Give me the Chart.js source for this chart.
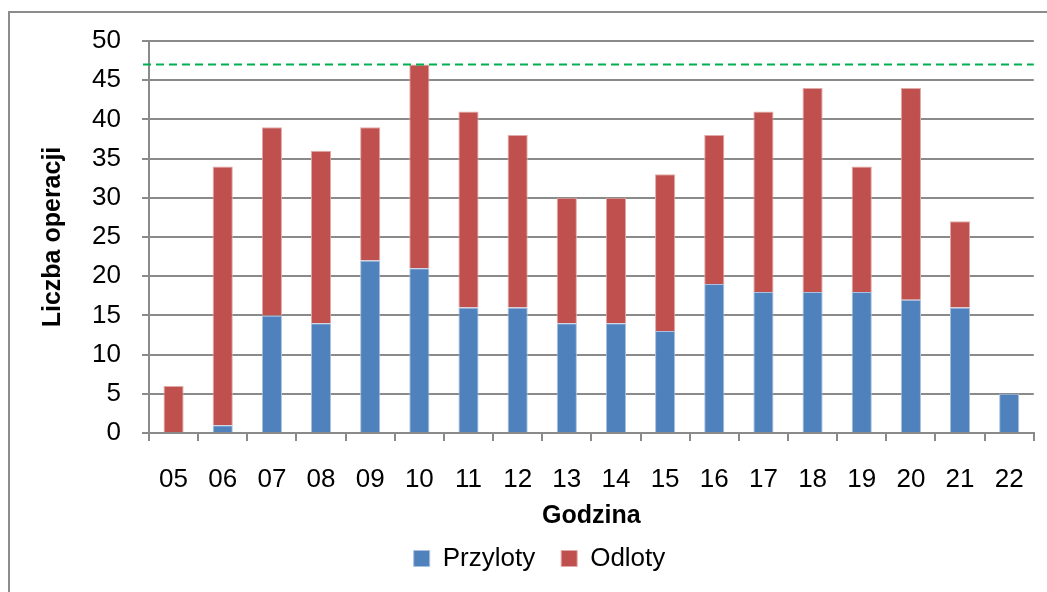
<!DOCTYPE html>
<html>
<head>
<meta charset="utf-8">
<script src="https://cdn.jsdelivr.net/npm/chart.js"></script>
<style>
    html, body { margin: 0; padding: 0; background: #fff; overflow: hidden; }
    body { width: 1047px; height: 592px; position: relative; }
    .frame {
        position: absolute; left: 8px; top: 11px;
        width: 2000px; height: 2000px;
        border: 2px solid #8c8c8c;
    }
    .wrap { position: absolute; left: 0; top: 0; width: 1047px; height: 592px; }
</style>
</head>
<body>
<div class="frame"></div>
<div class="wrap"><canvas id="opsChart" width="1047" height="592"></canvas></div>
<script>
// Data
const hours = ['05', '06', '07', '08', '09', '10', '11', '12', '13', '14', '15', '16', '17', '18', '19', '20', '21', '22'];
const arrivals = [0, 1, 15, 14, 22, 21, 16, 16, 14, 14, 13, 19, 18, 18, 18, 17, 16, 5];
const departures = [6, 33, 24, 22, 17, 26, 25, 22, 16, 16, 20, 19, 23, 26, 16, 27, 11, 0];
const yMin = 0;
const yMax = 50;
const yStep = 5;
const capacity = 47;

const gridColor = '#8a8a8a';

// Dashed green reference line at the capacity value
const capacityLine = {
    id: 'capacityLine',
    afterDatasetsDraw(chart) {
        const { ctx, chartArea, scales } = chart;
        const y = scales.y.getPixelForValue(capacity);
        ctx.save();
        ctx.strokeStyle = '#00b050';
        ctx.lineWidth = 2.2;
        ctx.setLineDash([8, 5]);
        ctx.beginPath();
        ctx.moveTo(chartArea.left - 6, y);
        ctx.lineTo(chartArea.right, y);
        ctx.stroke();
        ctx.restore();
    }
};

// Legend in the original is centred a bit right of the canvas middle
const legendShift = {
    id: 'legendShift',
    afterLayout(chart) {
        if (chart.legend) {
            chart.legend.left += 22;
            chart.legend.right += 22;
        }
    }
};

Chart.defaults.font.family = '"Liberation Sans", Arial, sans-serif';
Chart.defaults.font.size = 26;
Chart.defaults.color = '#000';

function initChart() {
    const ctx = document.getElementById('opsChart').getContext('2d');
    new Chart(ctx, {
        type: 'bar',
        data: {
            labels: hours,
            datasets: [{
                label: 'Przyloty',
                data: arrivals,
                backgroundColor: '#4f81bd',
                borderColor: '#a9c1e0',
                borderWidth: 1,
                borderSkipped: 'bottom'
            }, {
                label: 'Odloty',
                data: departures,
                backgroundColor: '#c0504d',
                borderColor: '#e0aaa8',
                borderWidth: 1,
                borderSkipped: 'bottom'
            }]
        },
        options: {
            responsive: false,
            animation: false,
            categoryPercentage: 1,
            barPercentage: 0.41,
            layout: {
                padding: { left: 0, right: 12, top: 41, bottom: 10.5 }
            },
            plugins: {
                legend: {
                    position: 'bottom',
                    labels: {
                        boxWidth: 16,
                        boxHeight: 16,
                        padding: 26,
                        font: { size: 26 }
                    }
                },
                tooltip: { enabled: false }
            },
            scales: {
                x: {
                    stacked: true,
                    grid: {
                        offset: true,
                        drawOnChartArea: false,
                        drawTicks: true,
                        tickLength: 8,
                        color: gridColor,
                        lineWidth: 2
                    },
                    border: { display: true, color: gridColor, width: 2 },
                    ticks: { padding: 23, maxRotation: 0, autoSkip: false },
                    title: {
                        display: true,
                        text: 'Godzina',
                        font: { size: 25, weight: 'bold' },
                        padding: { top: 0, bottom: -12 }
                    },
                    afterFit(scale) { scale.height = 86.5; }
                },
                y: {
                    stacked: true,
                    min: yMin,
                    max: yMax,
                    ticks: { stepSize: yStep, padding: 21 },
                    grid: {
                        color: gridColor,
                        lineWidth: 2,
                        tickLength: 7
                    },
                    border: { display: true, color: gridColor, width: 2 },
                    title: {
                        display: true,
                        text: 'Liczba operacji',
                        font: { size: 25, weight: 'bold' },
                        padding: { top: 38, bottom: 0 }
                    },
                    afterFit(scale) { scale.width = 149; }
                }
            }
        },
        plugins: [capacityLine, legendShift]
    });
}

document.addEventListener('DOMContentLoaded', function() {
    initChart();
});
</script>
</body>
</html>
